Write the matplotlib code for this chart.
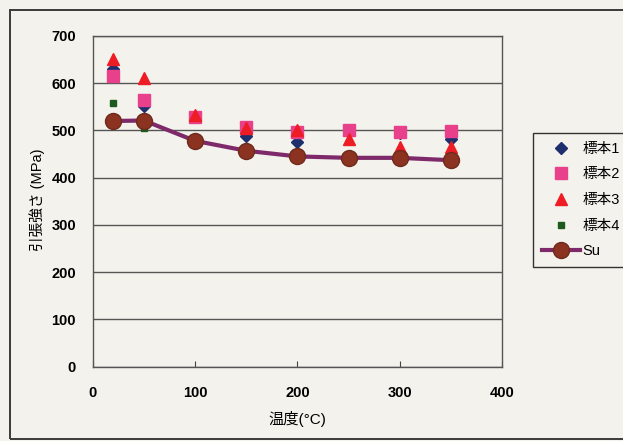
import matplotlib

matplotlib.use("Agg")
import matplotlib.pyplot as plt
from matplotlib.patches import Rectangle

plt.rcParams["font.family"] = ["Liberation Sans", "Noto Sans CJK JP", "DejaVu Sans"]

PAPER = "#f4f2ec"

# temperature (degC) and tensile strength (MPa)
temps = [20, 50, 100, 150, 200, 250, 300, 350]
sample1 = [631, 552, 528, 488, 475, 497, 494, 482]
sample2 = [616, 564, 529, 507, 496, 501, 496, 499]
sample3 = [652, 610, 532, 505, 500, 481, 466, 464]
sample4 = [559, 505, 476, 456, 444, 441, 441, 428]
su = [520, 521, 478, 457, 445, 442, 442, 437]

labels = ["標本1", "標本2", "標本3", "標本4", "Su"]
yticks = [0, 100, 200, 300, 400, 500, 600, 700]
xticks = [0, 100, 200, 300, 400]

fig = plt.figure(figsize=(6.23, 4.41), dpi=100, facecolor=PAPER)
ax = fig.add_axes([0.1488, 0.1685, 0.657, 0.750])
ax.set_facecolor(PAPER)

# outer chart frame (right edge runs off the scan)
fig.patches.append(Rectangle((10 / 623, 2 / 441), 1.2, 429 / 441, transform=fig.transFigure,
                             fill=False, edgecolor="#3a3a3a", lw=1.4))

ax.plot(temps, sample1, ls="none", marker="D", ms=6.5, color="#1f2f6e", label=labels[0])
ax.plot(temps, sample2, ls="none", marker="s", ms=8, color="#e8408a", label=labels[1])
ax.plot(temps, sample3, ls="none", marker="^", ms=8.5, color="#ee1c24", label=labels[2])
ax.plot(temps, sample4, ls="none", marker="s", ms=5, color="#1e5a1e", label=labels[3])
ax.plot(temps, su, color="#7e2a6a", lw=3, marker="o", ms=11.5,
        markerfacecolor="#8b3320", markeredgecolor="#6e2a1c", label=labels[4])

ax.set_xlim(0, 400)
ax.set_ylim(0, 700)
ax.set_xticks(xticks)
ax.set_yticks(yticks)
ax.grid(axis="y", color="#555555", lw=1.0)
ax.set_axisbelow(True)
ax.tick_params(axis="x", direction="in", length=4, color="#444444", pad=14, labelsize=10.5)
ax.tick_params(axis="y", length=0, pad=12, labelsize=10.5)
for lab in ax.get_xticklabels() + ax.get_yticklabels():
    lab.set_fontweight("bold")
for s in ax.spines.values():
    s.set_color("#555555")
    s.set_linewidth(1.0)

ax.set_xlabel("温度(°C)", fontsize=11, labelpad=8)
fig.text(37 / 623, 0.546, "引張強さ (MPa)", rotation=90, ha="center", va="center", fontsize=10.5)

leg = fig.legend(loc="upper left", bbox_to_anchor=(533 / 623, 1 - 133 / 441),
                 fontsize=10.5, fancybox=False, edgecolor="#333333", facecolor=PAPER,
                 framealpha=1, handlelength=2.6, labelspacing=0.8, borderpad=0.6,
                 handletextpad=0.2, borderaxespad=0)
leg.get_frame().set_linewidth(1.0)

fig.savefig("out.png", dpi=100, facecolor=PAPER)
